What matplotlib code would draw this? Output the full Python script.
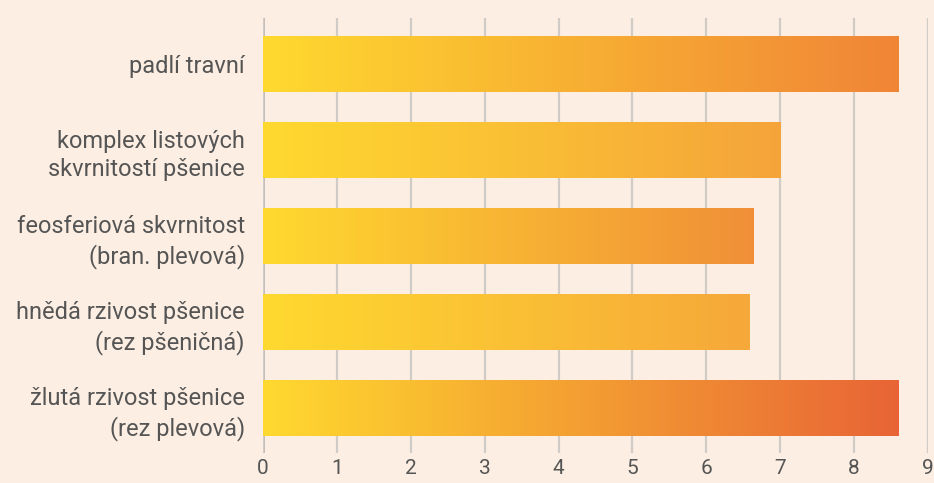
import numpy as np
import matplotlib.pyplot as plt
from matplotlib.colors import LinearSegmentedColormap

# DATA
categories = ['padlí travní',
              'komplex listových\nskvrnitostí pšenice',
              'feosferiová skvrnitost\n(bran. plevová)',
              'hnědá rzivost pšenice\n(rez pšeničná)',
              'žlutá rzivost pšenice\n(rez plevová)']
values = [8.6, 7.0, 6.64, 6.59, 8.6]
xticks = [0, 1, 2, 3, 4, 5, 6, 7, 8, 9]

# gradient end colours, one per bar
start_col = '#FFD92F'
end_cols = ['#F08537', '#F5A43B', '#F08F38', '#F6A83A', '#E86436']

bg = '#FCEEE2'
plt.rcParams['font.family'] = ['Roboto', 'DejaVu Sans']

fig = plt.figure(figsize=(9.34, 4.83), dpi=100, facecolor=bg)
ax = fig.add_axes([263/934, 1-453/483, 665/934, 435/483])
ax.set_facecolor(bg)

y = np.arange(len(categories))
bars = ax.barh(y, values, height=0.65, color='none', zorder=3)

grad = np.linspace(0, 1, 256).reshape(1, -1)
for b, ec in zip(bars, end_cols):
    cmap = LinearSegmentedColormap.from_list('g', [start_col, ec])
    x0, y0, w, h = b.get_x(), b.get_y(), b.get_width(), b.get_height()
    ax.imshow(grad, cmap=cmap, extent=(x0, x0 + w, y0, y0 + h),
              aspect='auto', zorder=3, interpolation='bicubic')

ax.set_xlim(0, 9)
ax.set_ylim(len(categories) - 0.48, -0.54)
ax.set_xticks(xticks)
ax.set_yticks(y)
ax.set_yticklabels(categories)

ax.grid(axis='x', color='#D0CBC6', linewidth=1.6, zorder=0)
ax.axvline(0, color='#BDB8B4', linewidth=2, zorder=1)
for sp in ax.spines.values():
    sp.set_visible(False)

ax.tick_params(axis='both', length=0, colors='#555555')
ax.tick_params(axis='y', pad=13, labelsize=17)
ax.tick_params(axis='x', pad=4, labelsize=15)
for lab in ax.get_yticklabels():
    lab.set_linespacing(1.3)

fig.savefig('out.png', dpi=100, facecolor=bg)
